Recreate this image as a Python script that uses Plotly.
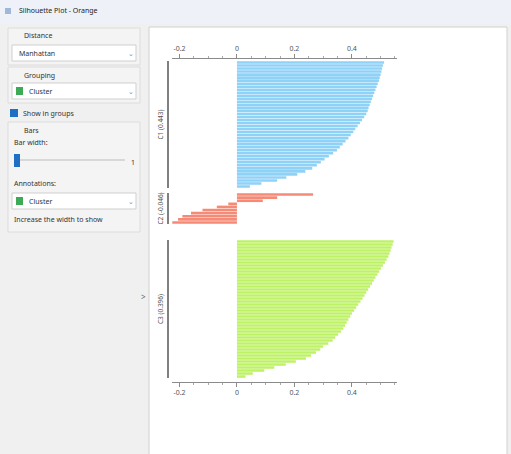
import plotly.graph_objects as go

W, H = 511, 454

# ---------------- data ----------------
group_names = ["C1 (0.443)", "C2 (-0.046)", "C3 (0.396)"]
c1_values = [0.512, 0.508, 0.505, 0.503, 0.500, 0.497, 0.494, 0.490, 0.486, 0.482,
             0.478, 0.474, 0.470, 0.466, 0.462, 0.458, 0.455, 0.450, 0.443, 0.435,
             0.428, 0.420, 0.412, 0.405, 0.396, 0.388, 0.378, 0.368, 0.358, 0.348,
             0.335, 0.320, 0.305, 0.292, 0.278, 0.262, 0.238, 0.210, 0.172, 0.140,
             0.085, 0.045]
c2_values = [0.265, 0.140, 0.090, -0.030, -0.070, -0.120, -0.160, -0.190, -0.205, -0.225]
c3_values = [0.545, 0.542, 0.538, 0.535, 0.531, 0.527, 0.521, 0.515, 0.508, 0.501,
             0.495, 0.489, 0.482, 0.476, 0.470, 0.463, 0.457, 0.450, 0.444, 0.437,
             0.430, 0.422, 0.415, 0.408, 0.400, 0.394, 0.388, 0.382, 0.376, 0.370,
             0.362, 0.352, 0.342, 0.333, 0.318, 0.300, 0.290, 0.275, 0.258, 0.240,
             0.205, 0.170, 0.130, 0.095, 0.055, 0.030]
tick_vals = [-0.2, 0.0, 0.2, 0.4]
tick_text = ["-0.2", "0", "0.2", "0.4"]

# ---------------- styles ----------------
colors = ["#8fd2f8", "#f58a76", "#bdf264"]
bands = [(61, 188), (193, 224), (240, 378)]
x_px = (172, 397)
x_range = [-0.226, 0.557]

def px(x):
    return x / W

def py(y):
    return 1 - y / H

fig = go.Figure()
groups = [c1_values, c2_values, c3_values]
for i, vals in enumerate(groups):
    yname = "y" if i == 0 else f"y{i+1}"
    fig.add_trace(go.Bar(
        x=vals, y=list(range(len(vals))), orientation="h",
        marker=dict(color=colors[i], line=dict(width=0)),
        xaxis="x", yaxis=yname, hoverinfo="x", showlegend=False,
    ))

tickfont = dict(family="Noto Sans", size=7, color="#555555")
layout = dict(
    width=W, height=H,
    margin=dict(l=0, r=0, t=0, b=0),
    paper_bgcolor="#f0f0f0",
    plot_bgcolor="rgba(0,0,0,0)",
    bargap=0.15,
    xaxis=dict(domain=[px(x_px[0]), px(x_px[1])], range=x_range,
               side="top", anchor="free", position=py(58),
               showline=True, linecolor="#8a8a8a", linewidth=1,
               tickvals=tick_vals, ticktext=tick_text, ticks="outside",
               ticklen=4, tickcolor="#8a8a8a", tickfont=tickfont,
               minor=dict(dtick=0.05, ticks="outside", ticklen=2, tickcolor="#aaaaaa"),
               showgrid=False, zeroline=False, fixedrange=True),
    xaxis2=dict(domain=[px(x_px[0]), px(x_px[1])], range=x_range,
                side="bottom", anchor="free", position=py(382), overlaying="x",
                matches="x",
                showline=True, linecolor="#8a8a8a", linewidth=1,
                tickvals=tick_vals, ticktext=tick_text, ticks="outside",
                ticklen=4, tickcolor="#8a8a8a", tickfont=tickfont,
                minor=dict(dtick=0.05, ticks="outside", ticklen=2, tickcolor="#aaaaaa"),
                showgrid=False, zeroline=False),
)
for i, vals in enumerate(groups):
    key = "yaxis" if i == 0 else f"yaxis{i+1}"
    top, bot = bands[i]
    n = len(vals)
    layout[key] = dict(domain=[py(bot), py(top)], range=[n - 0.5, -0.5],
                       anchor="free", position=px(168),
                       showline=True, linecolor="#808080", linewidth=1.5,
                       showticklabels=False, ticks="", showgrid=False, zeroline=False,
                       title=dict(text=group_names[i], standoff=2,
                                  font=dict(family="Noto Sans", size=6.5, color="#555555")))
fig.update_layout(**layout)
fig.add_trace(go.Bar(x=[None], y=[None], xaxis="x2", yaxis="y", showlegend=False))

shapes = []
ann = []

def rect(x0, y0, x1, y1, fill, line="rgba(0,0,0,0)", lw=1):
    shapes.append(dict(type="rect", xref="paper", yref="paper",
                       x0=px(x0), x1=px(x1), y0=py(y1), y1=py(y0),
                       fillcolor=fill, line=dict(color=line, width=lw), layer="below"))

def text(x, y, s, size=7, color="#333333", anchor="left"):
    ann.append(dict(xref="paper", yref="paper", x=px(x), y=py(y), text=s,
                    showarrow=False, xanchor=anchor, yanchor="middle",
                    font=dict(family="Noto Sans", size=size, color=color)))

# window title bar
rect(0, 0, W, 24, "#eef2f8")
rect(5, 8, 11, 14, "#a0b8d8")
text(17, 11, "Silhouette Plot - Orange", size=7, color="#222222")
# right plot panel
rect(149, 27, 507, H + 2, "#ffffff", "#d0d0d0")

# left control panel
rect(8, 28, 140, 65, "#f4f4f4", "#dcdcdc")
text(22, 36, "Distance")
rect(12, 45, 136, 61, "#ffffff", "#cfcfcf")
text(17, 53, "Manhattan")
text(126, 53, "⌄", color="#888888")

rect(8, 67, 140, 103, "#f4f4f4", "#dcdcdc")
text(22, 75, "Grouping")
rect(12, 83, 136, 99, "#ffffff", "#cfcfcf")
rect(16, 87, 23, 95, "#3daa55")
text(27, 91, "Cluster")
text(126, 91, "⌄", color="#888888")

rect(10, 109, 18, 117, "#1f6fc4")
text(21, 113, "Show in groups")

rect(8, 122, 140, 232, "#f4f4f4", "#dcdcdc")
text(22, 130, "Bars")
text(12, 142, "Bar width:")
rect(20, 159, 125, 161, "#d8d8d8")
rect(14, 154, 20, 167, "#1f6fc4")
text(129, 162, "1")
text(12, 183, "Annotations:")
rect(12, 193, 136, 209, "#ffffff", "#cfcfcf")
rect(16, 197, 23, 205, "#3daa55")
text(27, 201, "Cluster")
text(126, 201, "⌄", color="#888888")
text(12, 219, "Increase the width to show")

text(143, 296, "&gt;", size=8, color="#666666", anchor="center")

fig.update_layout(shapes=shapes, annotations=ann)
fig.write_html("out.html", config={"displayModeBar": False},
               post_script="document.body.style.margin='0';document.body.style.overflow='hidden';")
